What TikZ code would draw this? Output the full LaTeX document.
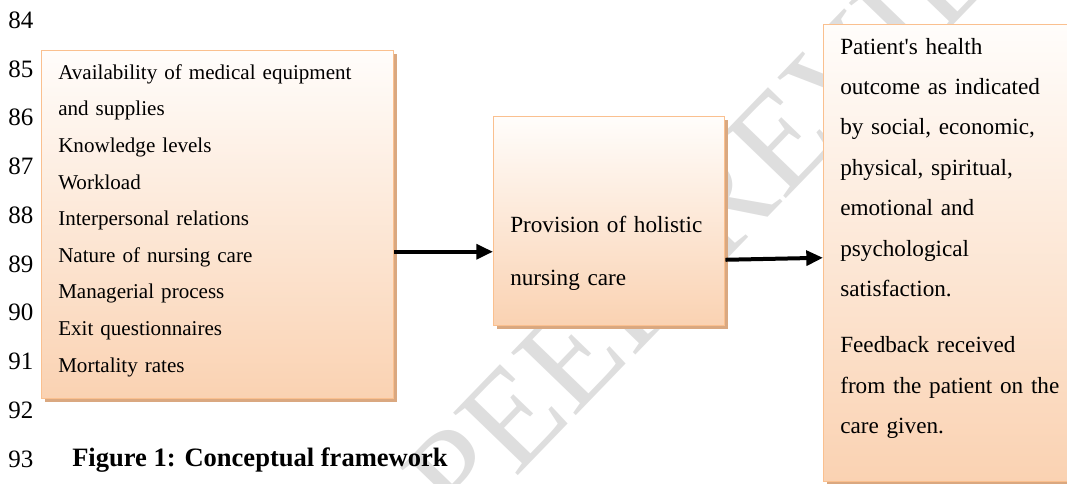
\documentclass[tikz,border=0pt]{standalone}
\usepackage{fontspec}
\setmainfont{Liberation Serif}
\usepackage{tikz}
\usetikzlibrary{positioning,shadows,arrows.meta}
\definecolor{boxedge}{RGB}{250,192,143}
\definecolor{boxtop}{RGB}{255,253,251}
\definecolor{boxbottom}{RGB}{250,210,178}
\definecolor{boxshadow}{RGB}{218,168,128}
\definecolor{markgray}{RGB}{222,222,222}

\begin{document}
\begin{tikzpicture}[x=0.75pt,y=-0.75pt,
        box/.style={draw=boxedge,line width=1.1pt,top color=boxtop,bottom color=boxbottom,
            drop shadow={shadow xshift=2.2pt,shadow yshift=-2.2pt,fill=boxshadow,opacity=1},
            anchor=north west,inner sep=0pt},
        boxtext/.style={anchor=base west,inner sep=0pt,align=left},
        lineno/.style={anchor=base west,inner sep=0pt,font=\fontsize{18.75}{20}\selectfont},
        flow/.style={line width=3pt,-{Triangle[length=12.5pt,width=11pt]}}]
            \useasboundingbox (0,0) rectangle (1067,483);
            \clip (0,0) rectangle (1067,483);
            \node[rotate=46,text=markgray,inner sep=0pt,font=\fontsize{103}{110}\selectfont] (stamp) at (745,178) {PEER REVIEW};  % watermark behind the boxes
            \foreach \n in {84,...,93}
                \node[lineno] (ln\n) at (8,{28.3+(\n-84)*48.78}) {\n};
            \node[box,minimum width=264pt,minimum height=261pt] (factors) at (41,50) {};
            \node[box,minimum width=173.25pt,minimum height=156.75pt] (care) at (493,116) {};
            \node[box,minimum width=193pt,minimum height=342.75pt] (outcome) at (823,24) {};
            \node[boxtext,text width=239.25pt,font=\fontsize{15.8}{27.45}\selectfont] (factorlist) at (58,79.3)
                {\makebox[\linewidth][s]{Availability of medical equipment}\\ and supplies\\ Knowledge levels\\ Workload\\
                 Interpersonal relations\\ Nature of nursing care\\ Managerial process\\ Exit questionnaires\\ Mortality rates};
            \node[boxtext,text width=147.75pt,font=\fontsize{17.4}{39.75}\selectfont] (caretext) at (510,232)
                {\makebox[\linewidth][s]{Provision of holistic}\\ nursing care};
            \node[boxtext,text width=170pt,font=\fontsize{17.4}{30.3}\selectfont] (outcometext) at (840,54)
                {Patient\textquotesingle s health\\ outcome as indicated\\ by social, economic,\\ physical, spiritual,\\ emotional and\\
                 psychological\\ satisfaction.\\[11.9pt] Feedback received\\ from the patient on the\\ care given.};
            \coordinate (in1) at ([yshift=-20.25pt]factors.east);
            \draw[flow] (in1) -- (in1 -| care.west);
            \draw[flow] ([yshift=-28.9pt]care.east) -- ([yshift=-3.4pt]outcome.west);  % slightly rising arrow
            \node[anchor=base west,inner sep=0pt,font=\bfseries\fontsize{19.9}{22}\selectfont] (caption) at (72,466) {Figure 1: Conceptual framework};
        \end{tikzpicture}
\end{document}
